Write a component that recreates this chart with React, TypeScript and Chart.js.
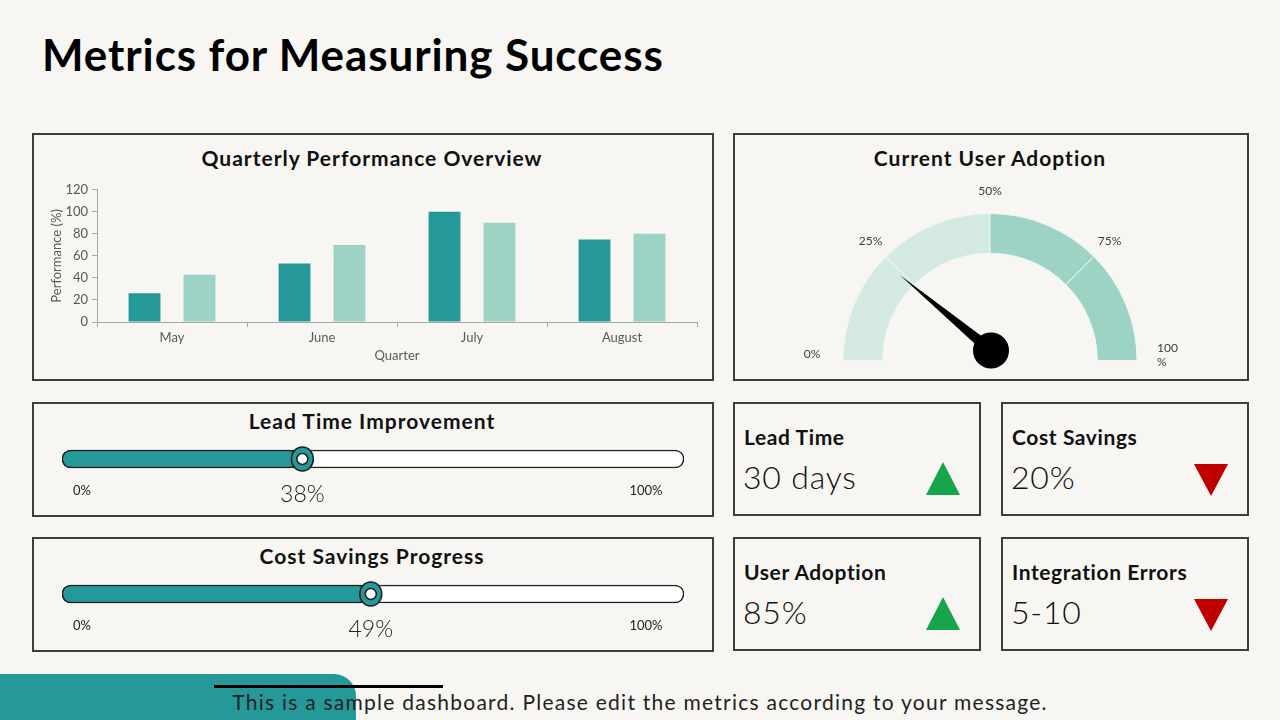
import React, { useEffect, useRef } from 'react';
import { Chart, registerables } from 'chart.js';

Chart.register(...registerables);

// ---------- DATA ----------
const pageTitle = 'Metrics for Measuring Success';
const months = ['May', 'June', 'July', 'August'];
const seriesCurrent = [26, 53, 100, 75];
const seriesTarget = [43, 70, 90, 80];
const yTickStep = 20;
const yMax = 120;

const gaugeSegments = [25, 25, 25, 25];
const gaugeTickLabels = ['0%', '25%', '50%', '75%', '100 %'];
const gaugeTickValues = [0, 25, 50, 75, 100];
const gaugeNeedleValue = 22;

const leadTimeImprovement = 38;
const costSavingsProgress = 49;

const kpiTitles = ['Lead Time', 'Cost Savings', 'User Adoption', 'Integration Errors'];
const kpiValues = ['30 days', '20%', '85%', '5-10'];
const kpiTrends = ['up', 'down', 'up', 'down'];

const footerText = 'This is a sample dashboard. Please edit the metrics according to your message.';

// ---------- STYLE ----------
const FONT = 'Lato, "Noto Sans", sans-serif';
const BG = '#F7F6F2';
const DARK = '#259999';
const LIGHT = '#9CD3C4';
const LIGHTEST = '#D5E9E3';
const BORDER = '#3d3d3d';
const AXIS_TEXT = '#595959';

function Panel(props: { left: number; top: number; width: number; height: number }) {
  return (
    <div
      style={{
        position: 'absolute',
        left: props.left,
        top: props.top,
        width: props.width,
        height: props.height,
        border: `2px solid ${BORDER}`,
        boxSizing: 'border-box',
      }}
    />
  );
}

function Label(props: {
  x: number;
  y: number;
  text: string;
  size: number;
  bold?: boolean;
  weight?: number;
  spacing?: number;
  align?: 'left' | 'center';
  color?: string;
}) {
  const center = props.align !== 'left';
  return (
    <div
      style={{
        position: 'absolute',
        left: props.x,
        top: props.y,
        transform: center ? 'translate(-50%, -50%)' : 'translateY(-50%)',
        fontFamily: FONT,
        fontSize: props.size,
        fontWeight: props.weight ?? (props.bold ? 700 : 400),
        letterSpacing: props.spacing ?? 0,
        color: props.color || '#111',
        whiteSpace: 'nowrap',
        lineHeight: 1.2,
      }}
    >
      {props.text}
    </div>
  );
}

function BarChart() {
  const ref = useRef<HTMLCanvasElement>(null);
  useEffect(() => {
    const tickFont = { family: FONT, size: 13 };
    const chart = new Chart(ref.current!, {
      type: 'bar',
      data: {
        labels: months,
        datasets: [
          {
            data: seriesCurrent,
            backgroundColor: DARK,
            categoryPercentage: 0.733,
            barPercentage: 0.58,
          },
          {
            data: seriesTarget,
            backgroundColor: LIGHT,
            categoryPercentage: 0.733,
            barPercentage: 0.58,
          },
        ],
      },
      options: {
        animation: false,
        responsive: false,
        layout: { padding: { top: 8, right: 13, left: 0, bottom: 0 } },
        plugins: { legend: { display: false }, tooltip: { enabled: false } },
        scales: {
          x: {
            grid: { drawOnChartArea: false, drawTicks: true, tickLength: 5, color: '#a6a6a6' },
            border: { color: '#a6a6a6' },
            ticks: { color: AXIS_TEXT, font: tickFont, padding: 3 },
            title: {
              display: true,
              text: 'Quarter',
              color: AXIS_TEXT,
              font: tickFont,
              padding: { top: 0, bottom: 10 },
            },
            afterFit: (s: any) => {
              s.height = 52;
            },
          },
          y: {
            min: 0,
            max: yMax,
            grid: { drawOnChartArea: false, drawTicks: true, tickLength: 5, color: '#a6a6a6' },
            border: { color: '#a6a6a6' },
            ticks: { stepSize: yTickStep, color: AXIS_TEXT, font: tickFont, padding: 4 },
            title: {
              display: true,
              text: 'Performance (%)',
              color: AXIS_TEXT,
              font: tickFont,
              padding: { top: 15, bottom: 0 },
            },
            afterFit: (s: any) => {
              s.width = 63;
            },
          },
        },
      },
    });
    return () => chart.destroy();
  }, []);
  return (
    <canvas
      ref={ref}
      width={676}
      height={196}
      style={{ position: 'absolute', left: 34, top: 178, width: 676, height: 196 }}
    />
  );
}

function Gauge() {
  const ref = useRef<HTMLCanvasElement>(null);
  useEffect(() => {
    const gaugePlugin = {
      id: 'gaugeDecor',
      afterDraw(chart: any) {
        const arc = chart.getDatasetMeta(0).data[0];
        if (!arc) return;
        const cx = arc.x;
        const cy = arc.y;
        const ctx = chart.ctx;
        ctx.save();
        // labels
        ctx.fillStyle = '#404040';
        ctx.font = `12px ${FONT}`;
        ctx.textBaseline = 'middle';
        gaugeTickValues.forEach((v, i) => {
          const ang = Math.PI + (v / 100) * Math.PI;
          const isEnd = v === 0 || v === 100;
          const r = isEnd ? 178 : 169;
          const x = cx + r * Math.cos(ang);
          const y = cy + r * Math.sin(ang) - (isEnd ? 6 : 0);
          const parts = gaugeTickLabels[i].split(' ');
          if (parts.length > 1) {
            ctx.textAlign = 'left';
            ctx.fillText(parts[0], x - 11, y - 6);
            ctx.fillText(parts[1], x - 11, y + 8);
          } else {
            ctx.textAlign = 'center';
            ctx.fillText(parts[0], x, y);
          }
        });
        // needle
        const px = cx + 1;
        const py = cy - 10;
        const ang = Math.PI + (gaugeNeedleValue / 100) * Math.PI;
        const len = 118;
        const tx = px + len * Math.cos(ang);
        const ty = py + len * Math.sin(ang);
        const nx = -Math.sin(ang);
        const ny = Math.cos(ang);
        const hw = 6;
        ctx.fillStyle = '#000';
        ctx.beginPath();
        ctx.moveTo(tx, ty);
        ctx.lineTo(px + nx * hw, py + ny * hw);
        ctx.lineTo(px - nx * hw, py - ny * hw);
        ctx.closePath();
        ctx.fill();
        ctx.beginPath();
        ctx.arc(px, py, 18, 0, Math.PI * 2);
        ctx.fill();
        ctx.restore();
      },
    };
    const chart = new Chart(ref.current!, {
      type: 'doughnut',
      data: {
        labels: gaugeTickLabels.slice(0, 4),
        datasets: [
          {
            data: gaugeSegments,
            backgroundColor: [LIGHTEST, LIGHTEST, LIGHT, LIGHT],
            borderColor: '#eef6f3',
            borderWidth: 1,
          },
        ],
      },
      options: {
        animation: false,
        responsive: false,
        rotation: -90,
        circumference: 180,
        cutout: '73%',
        layout: { padding: { left: 59, right: 59, top: 33, bottom: 17 } },
        plugins: { legend: { display: false }, tooltip: { enabled: false } },
      },
      plugins: [gaugePlugin],
    });
    return () => chart.destroy();
  }, []);
  return (
    <canvas
      ref={ref}
      width={414}
      height={198}
      style={{ position: 'absolute', left: 783, top: 180, width: 414, height: 198 }}
    />
  );
}

function Slider(props: { value: number; top: number }) {
  const ref = useRef<HTMLCanvasElement>(null);
  useEffect(() => {
    const knobPlugin = {
      id: 'knob',
      afterDraw(chart: any) {
        const ctx = chart.ctx;
        const xs = chart.scales.x;
        const bar = chart.getDatasetMeta(0).data[0];
        const kx = xs.getPixelForValue(props.value) + 4;
        const ky = bar.y;
        ctx.save();
        ctx.lineWidth = 1.5;
        ctx.strokeStyle = '#1f1f1f';
        ctx.fillStyle = DARK;
        ctx.beginPath();
        ctx.ellipse(kx, ky, 11, 12, 0, 0, Math.PI * 2);
        ctx.fill();
        ctx.stroke();
        ctx.fillStyle = '#fff';
        ctx.beginPath();
        ctx.arc(kx, ky, 5.5, 0, Math.PI * 2);
        ctx.fill();
        ctx.stroke();
        // labels
        ctx.fillStyle = '#222';
        ctx.textBaseline = 'middle';
        ctx.textAlign = 'center';
        ctx.font = `13px ${FONT}`;
        ctx.fillText('0%', xs.getPixelForValue(0) + 20, ky + 32);
        ctx.fillText('100%', xs.getPixelForValue(100) - 38, ky + 32);
        ctx.font = `300 23px ${FONT}`;
        ctx.fillText(`${props.value}%`, kx, ky + 36);
        ctx.restore();
      },
    };
    const chart = new Chart(ref.current!, {
      type: 'bar',
      data: {
        labels: [''],
        datasets: [
          {
            data: [props.value],
            backgroundColor: DARK,
            borderColor: '#1f1f1f',
            borderWidth: 1.5,
            borderRadius: 9,
            borderSkipped: false,
            barThickness: 18,
            grouped: false,
          } as any,
          {
            data: [100],
            backgroundColor: '#ffffff',
            borderColor: '#1f1f1f',
            borderWidth: 1.5,
            borderRadius: 9,
            borderSkipped: false,
            barThickness: 18,
            grouped: false,
          } as any,
        ],
      },
      options: {
        indexAxis: 'y',
        animation: false,
        responsive: false,
        layout: { padding: { left: 22, right: 22, top: 0, bottom: 30 } },
        plugins: { legend: { display: false }, tooltip: { enabled: false } },
        scales: {
          x: { display: false, min: 0, max: 100 },
          y: { display: false },
        },
      },
      plugins: [knobPlugin],
    });
    return () => chart.destroy();
  }, []);
  return (
    <canvas
      ref={ref}
      width={666}
      height={70}
      style={{ position: 'absolute', left: 40, top: props.top, width: 666, height: 70 }}
    />
  );
}

function Triangle(props: { up: boolean; left: number; top: number }) {
  const color = props.up ? '#17A44B' : '#C00000';
  return (
    <div
      style={{
        position: 'absolute',
        left: props.left,
        top: props.top,
        width: 0,
        height: 0,
        borderLeft: '17px solid transparent',
        borderRight: '17px solid transparent',
        ...(props.up
          ? { borderBottom: `33px solid ${color}` }
          : { borderTop: `32px solid ${color}` }),
      }}
    />
  );
}

export default function App() {
  const kpiPos = [
    [733, 402],
    [1001, 402],
    [733, 537],
    [1001, 537],
  ];
  return (
    <div
      style={{
        position: 'fixed',
        left: 0,
        top: 0,
        width: 1280,
        height: 720,
        background: BG,
        overflow: 'hidden',
        fontFamily: FONT,
      }}
    >
      <Label x={42} y={54} text={pageTitle} size={44} spacing={0.9} bold align="left" color="#000" />

      <Panel left={32} top={133} width={682} height={248} />
      <Label x={372} y={158} text="Quarterly Performance Overview" size={21} spacing={1} bold />
      <BarChart />

      <Panel left={733} top={133} width={516} height={248} />
      <Label x={990} y={158} text="Current User Adoption" size={21} spacing={1} bold />
      <Gauge />

      <Panel left={32} top={402} width={682} height={115} />
      <Label x={372} y={421} text="Lead Time Improvement" size={21} spacing={1} bold />
      <Slider value={leadTimeImprovement} top={439} />

      <Panel left={32} top={537} width={682} height={115} />
      <Label x={372} y={556} text="Cost Savings Progress" size={21} spacing={1} bold />
      <Slider value={costSavingsProgress} top={574} />

      {kpiTitles.map((t, i) => {
        const [l, tp] = kpiPos[i];
        const up = kpiTrends[i] === 'up';
        return (
          <React.Fragment key={t}>
            <Panel left={l} top={tp} width={248} height={114} />
            <Label x={l + 11} y={tp + 35} text={t} size={21} spacing={0.6} bold align="left" />
            <Label x={l + 10} y={tp + 75} text={kpiValues[i]} size={32} weight={300} spacing={0.8} align="left" />
            <Triangle up={up} left={l + 193} top={tp + (up ? 60 : 62)} />
          </React.Fragment>
        );
      })}

      <div
        style={{
          position: 'absolute',
          left: 0,
          top: 674,
          width: 356,
          height: 70,
          background: DARK,
          borderTopRightRadius: 22,
        }}
      />
      <div style={{ position: 'absolute', left: 214, top: 685, width: 229, height: 3, background: '#000' }} />
      <Label x={640} y={702} text={footerText} size={21} spacing={1.25} color="#222" />
    </div>
  );
}
